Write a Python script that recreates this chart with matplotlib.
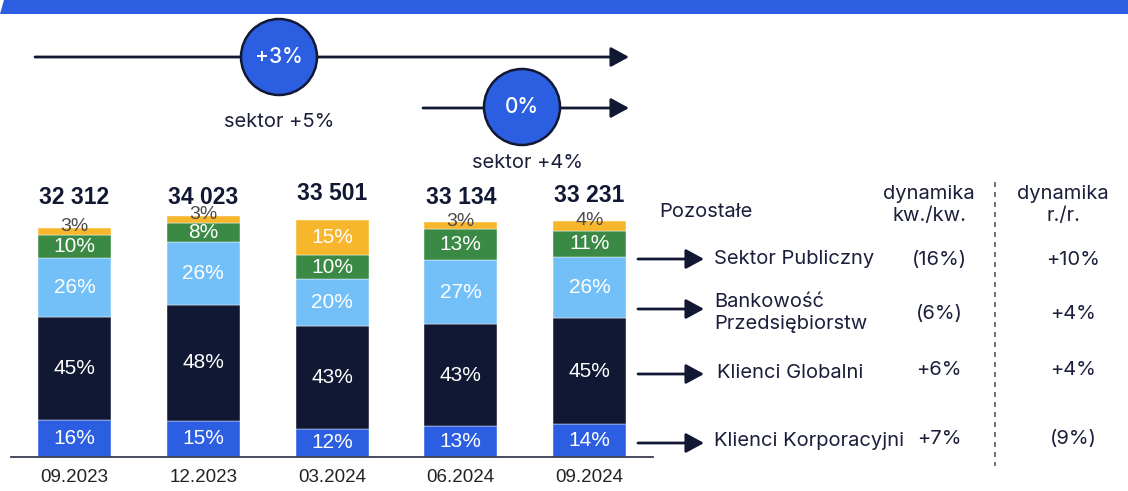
import matplotlib
matplotlib.use('Agg')
import matplotlib.pyplot as plt
from matplotlib.patches import Circle, Polygon
from matplotlib.transforms import blended_transform_factory

# ---------------- data ----------------
periods = ['09.2023', '12.2023', '03.2024', '06.2024', '09.2024']
totals = [32312, 34023, 33501, 33134, 33231]
total_labels = ['32 312', '34 023', '33 501', '33 134', '33 231']

segments = ['Klienci Korporacyjni', 'Klienci Globalni', 'Bankowość\nPrzedsiębiorstw',
            'Sektor Publiczny', 'Pozostałe']
korporacyjni = [16, 15, 12, 13, 14]
globalni = [45, 48, 43, 43, 45]
bankowosc = [26, 26, 20, 27, 26]
publiczny = [10, 8, 10, 13, 11]
pozostale = [3, 3, 15, 3, 4]

dyn_qq = ['(16%)', '(6%)', '+6%', '+7%']
dyn_yy = ['+10%', '+4%', '+4%', '(9%)']
growth_qq = '0%'
growth_yy = '+3%'
sector_qq = 'sektor +4%'
sector_yy = 'sektor +5%'

# ---------------- style ----------------
BLUE = '#2B5EE0'
NAVY = '#111833'
LIGHT = '#73C0F8'
GREEN = '#3A8A45'
YELLOW = '#F8B62C'
TXT = '#1b1f3b'
seg_colors = [BLUE, NAVY, LIGHT, GREEN, YELLOW]

W, H = 1128, 491
fig = plt.figure(figsize=(W / 100, H / 100), dpi=100)
fig.patch.set_facecolor('white')


def fx(px):
    return px / W


def fy(py):
    return 1 - py / H


# bar axes layout (pixels)
base_py = 457
ymax = 40000
px_per_unit = 229 / 32312
top_py = base_py - ymax * px_per_unit
x_left_px, x_right_px = 11, 653
c0, step = 74.5, 128.75

ax = fig.add_axes([fx(x_left_px), fy(base_py), (x_right_px - x_left_px) / W,
                   (base_py - top_py) / H])
ax.set_xlim((x_left_px - c0) / step, (x_right_px - c0) / step)
ax.set_ylim(0, ymax)

series = [korporacyjni, globalni, bankowosc, publiczny, pozostale]
x = list(range(len(periods)))
bottoms = [0.0] * len(periods)
for s_idx, vals in enumerate(series):
    heights = []
    for i in x:
        share_sum = sum(s[i] for s in series)
        heights.append(totals[i] * vals[i] / share_sum)
    ax.bar(x, heights, bottom=bottoms, width=73 / step, color=seg_colors[s_idx],
           edgecolor='white', linewidth=0.3, zorder=2)
    for i in x:
        small = vals[i] < 6
        if small:
            yc = bottoms[i] + heights[i] * 1.15
            col = '#4a4a4a'
            fsz = 14
        else:
            yc = bottoms[i] + heights[i] / 2
            col = 'white'
            fsz = 15
        ax.text(i, yc, f'{vals[i]}%', ha='center', va='center', fontsize=fsz,
                color=col, family='Liberation Sans', zorder=3)
    bottoms = [b + h for b, h in zip(bottoms, heights)]

trans = blended_transform_factory(ax.transData, ax.transAxes)
total_y = [197, 197, 193, 197, 196]
for i in x:
    ax.text(i, (base_py - total_y[i]) / (base_py - top_py), total_labels[i], transform=trans,
            ha='center', va='center', fontsize=16.5, fontweight='bold',
            color=NAVY, family='Liberation Sans')

ax.set_xticks(x, periods)
ax.tick_params(axis='x', length=0, pad=9, labelsize=13.5, labelcolor='#222222')
for lab in ax.get_xticklabels():
    lab.set_family('Liberation Sans')
ax.set_yticks([])
for sp in ['top', 'right', 'left']:
    ax.spines[sp].set_visible(False)
ax.spines['bottom'].set_color('#3b3f52')
ax.spines['bottom'].set_linewidth(1.3)
ax.patch.set_alpha(0)

# ---------------- overlay (pixel coordinates) ----------------
ov = fig.add_axes([0, 0, 1, 1], zorder=5)
ov.set_xlim(0, W)
ov.set_ylim(H, 0)
ov.axis('off')

# top stripe
ov.add_patch(Polygon([(0, 14), (4, 0), (W, 0), (W, 14)], closed=True,
                     facecolor=BLUE, edgecolor='none'))

arrow_kw = dict(arrowstyle='-|>,head_length=0.55,head_width=0.3', color=NAVY, lw=2,
                mutation_scale=20, shrinkA=0, shrinkB=0)
# growth arrows
ov.annotate('', xy=(629, 57), xytext=(35, 57), arrowprops=arrow_kw)
ov.annotate('', xy=(629, 108), xytext=(423, 108), arrowprops=arrow_kw)
for (cx, cy), lab in [((279, 57), growth_yy), ((522, 107), growth_qq)]:
    ov.add_patch(Circle((cx, cy), 38, facecolor=BLUE, edgecolor=NAVY, lw=1.8, zorder=4))
    ov.text(cx, cy, lab, ha='center', va='center', color='white', fontsize=15,
            family='Inter', fontweight='medium', zorder=5)
ov.text(279, 122, sector_yy, ha='center', va='center', color=TXT, fontsize=14.5,
        family='Inter')
ov.text(528, 163, sector_qq, ha='center', va='center', color=TXT, fontsize=14.5,
        family='Inter')

# right side legend
row_y = [259, 309, 374, 443]
for yy in row_y:
    ov.annotate('', xy=(704, yy), xytext=(638, yy), arrowprops=arrow_kw)

fs = 14.5
ov.text(659, 212, segments[4], ha='left', va='center', color=TXT, fontsize=fs, family='Inter')
ov.text(714, 259, segments[3], ha='left', va='center', color=TXT, fontsize=fs, family='Inter')
ov.text(714, 313, segments[2], ha='left', va='center', color=TXT, fontsize=fs, family='Inter',
        linespacing=1.3)
ov.text(717, 373, segments[1], ha='left', va='center', color=TXT, fontsize=fs, family='Inter')
ov.text(714, 441, segments[0], ha='left', va='center', color=TXT, fontsize=fs, family='Inter')

ov.text(929, 205, 'dynamika\nkw./kw.', ha='center', va='center', color=TXT, fontsize=fs,
        family='Inter', linespacing=1.35)
ov.text(1063, 205, 'dynamika\nr./r.', ha='center', va='center', color=TXT, fontsize=fs,
        family='Inter', linespacing=1.35)

val_y = [260, 314, 370, 439]
for yy, a, b in zip(val_y, dyn_qq, dyn_yy):
    ov.text(939, yy, a, ha='center', va='center', color=TXT, fontsize=fs, family='Inter')
    ov.text(1073, yy, b, ha='center', va='center', color=TXT, fontsize=fs, family='Inter')

ov.plot([995, 995], [182, 466], color='#555a66', lw=1.2, linestyle=(0, (3, 3)))

fig.savefig('out.png', dpi=100)
